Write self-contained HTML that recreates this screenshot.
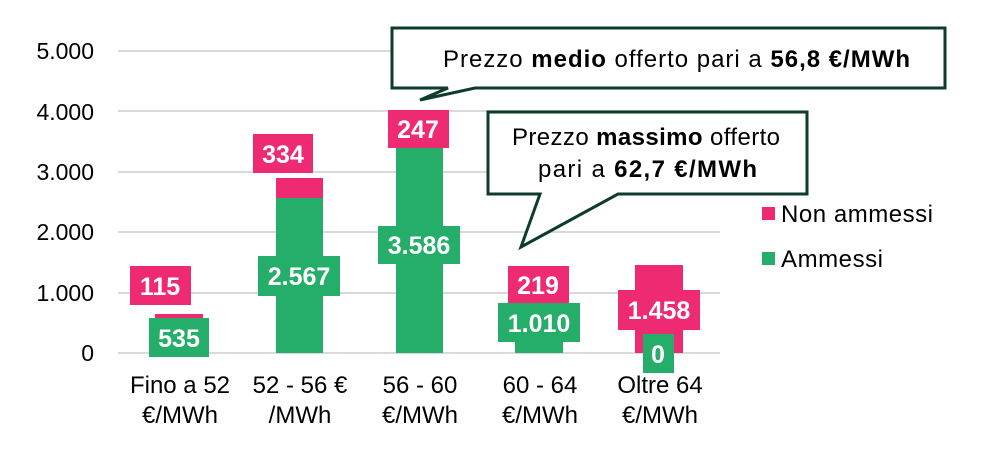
<!DOCTYPE html>
<html><head><meta charset="utf-8"><style>
body{margin:0;background:#fff;}
svg text{font-family:"Liberation Sans",sans-serif;}
</style></head><body>
<svg width="995" height="444" viewBox="0 0 995 444" xmlns="http://www.w3.org/2000/svg">
<g stroke="#d9d9d9" stroke-width="2">
<line x1="118" y1="51" x2="720" y2="51"/>
<line x1="118" y1="111" x2="720" y2="111"/>
<line x1="118" y1="172" x2="720" y2="172"/>
<line x1="118" y1="232" x2="720" y2="232"/>
<line x1="118" y1="293" x2="720" y2="293"/>
<line x1="118" y1="353" x2="720" y2="353"/>
</g>
<g font-size="23" fill="#000" text-anchor="end">
<text x="94" y="59">5.000</text>
<text x="94" y="120">4.000</text>
<text x="94" y="180">3.000</text>
<text x="94" y="240">2.000</text>
<text x="94" y="301">1.000</text>
<text x="94" y="361">0</text>
</g>
<g fill="#25ad6a">
<rect x="155" y="321" width="48" height="32"/>
<rect x="276" y="198" width="47" height="155"/>
<rect x="396" y="136" width="47" height="217"/>
<rect x="515" y="292" width="48" height="61"/>
</g>
<g fill="#ee2a72">
<rect x="155" y="314" width="48" height="7"/>
<rect x="276" y="178" width="47" height="20"/>
<rect x="396" y="121" width="47" height="15"/>
<rect x="515" y="279" width="48" height="13"/>
<rect x="635" y="265" width="48" height="88"/>
</g>
<g font-size="25" font-weight="bold" fill="#fff" text-anchor="middle">
<rect x="130" y="266" width="61" height="39" fill="#ee2a72"/><text x="160" y="295">115</text>
<rect x="149" y="318" width="60" height="39" fill="#25ad6a"/><text x="179" y="347">535</text>
<rect x="253" y="134" width="60" height="39" fill="#ee2a72"/><text x="283" y="163">334</text>
<rect x="258" y="256" width="82" height="40" fill="#25ad6a"/><text x="299" y="285">2.567</text>
<rect x="388" y="110" width="61" height="38" fill="#ee2a72"/><text x="418" y="138">247</text>
<rect x="378" y="226" width="82" height="38" fill="#25ad6a"/><text x="419" y="254">3.586</text>
<rect x="508" y="266" width="61" height="37" fill="#ee2a72"/><text x="538" y="294">219</text>
<rect x="498" y="303" width="82" height="39" fill="#25ad6a"/><text x="539" y="332">1.010</text>
<rect x="618" y="290" width="82" height="40" fill="#ee2a72"/><text x="659" y="319">1.458</text>
<rect x="643" y="334" width="31" height="39" fill="#25ad6a"/><text x="658" y="363">0</text>
</g>
<g font-size="24" fill="#000" text-anchor="middle">
<text x="180" y="393">Fino a 52</text><text x="180" y="423">€/MWh</text>
<text x="300" y="393">52 - 56 €</text><text x="300" y="423">/MWh</text>
<text x="420" y="393">56 - 60</text><text x="420" y="423">€/MWh</text>
<text x="540" y="393">60 - 64</text><text x="540" y="423">€/MWh</text>
<text x="660" y="393">Oltre 64</text><text x="660" y="423">€/MWh</text>
</g>
<rect x="762" y="207" width="13" height="13" fill="#ee2a72"/>
<text x="781" y="222" font-size="24" textLength="152">Non ammessi</text>
<rect x="762" y="252" width="13" height="13" fill="#25ad6a"/>
<text x="781" y="267" font-size="24" textLength="102">Ammessi</text>
<path d="M392 28 H945 V88 H475 L420 100 L448 88 H392 Z" fill="#fff" stroke="#0d3b2e" stroke-width="3" stroke-linejoin="miter"/>
<text x="443" y="67" font-size="24" textLength="467">Prezzo <tspan font-weight="bold">medio</tspan> offerto pari a <tspan font-weight="bold">56,8 €/MWh</tspan></text>
<path d="M488 112 H807 V194 H618 L521 247 L540 194 H488 Z" fill="#fff" stroke="#0d3b2e" stroke-width="3"/>
<text x="512" y="145" font-size="24" textLength="268">Prezzo <tspan font-weight="bold">massimo</tspan> offerto</text>
<text x="538" y="177" font-size="24" textLength="219">pari a <tspan font-weight="bold">62,7 €/MWh</tspan></text>
</svg>
</body></html>
